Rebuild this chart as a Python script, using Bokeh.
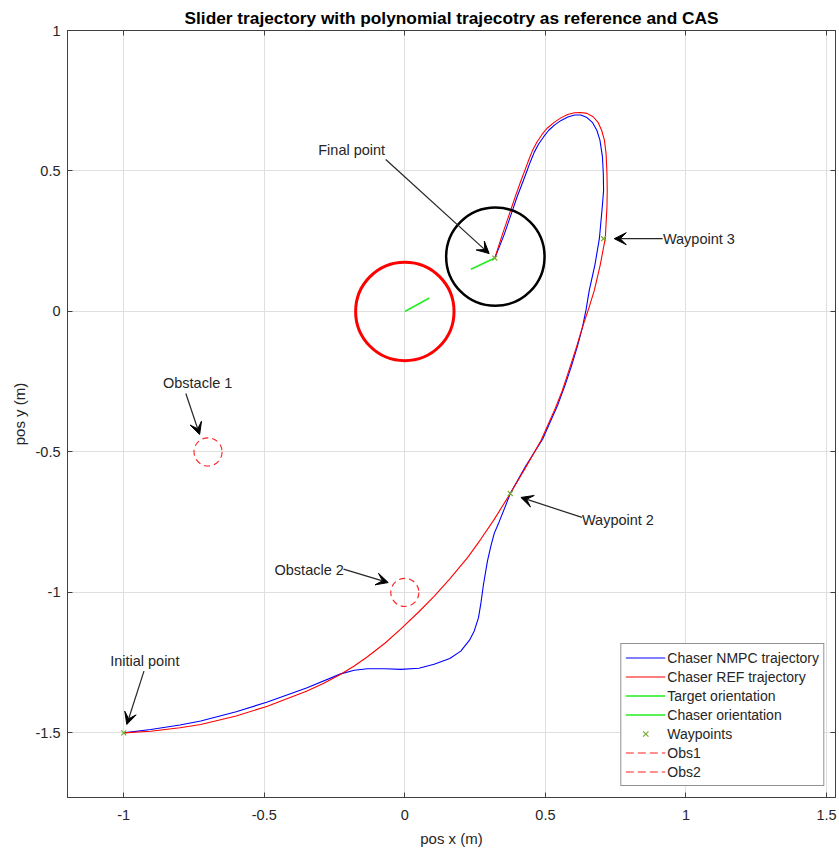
from bokeh.plotting import figure
from bokeh.models import (ColumnDataSource, Range1d, LinearAxis, FixedTicker,
                          Legend, LegendItem, Arrow, VeeHead, LabelSet,
                          CustomJSTickFormatter)
from bokeh.core.properties import value
from bokeh.embed import file_html
from bokeh.resources import INLINE

# --- chart data -----------------------------------------------------------
x_ticks = [-1, -0.5, 0, 0.5, 1, 1.5]
y_ticks = [-1.5, -1, -0.5, 0, 0.5, 1]

# reference (polynomial) trajectory
ref_x = [-1.000, -0.904, -0.800, -0.726, -0.600, -0.489, -0.350, -0.290, -0.228,
         -0.180, -0.133, -0.070, -0.014, 0.051, 0.104, 0.160, 0.223, 0.270, 0.318,
         0.375, 0.430, 0.484, 0.535, 0.560, 0.582, 0.608, 0.632, 0.654, 0.674,
         0.695, 0.713, 0.719, 0.720, 0.719, 0.716, 0.710, 0.700, 0.688, 0.670,
         0.648, 0.626, 0.603, 0.579, 0.555, 0.530, 0.506, 0.488, 0.470, 0.455,
         0.441, 0.428, 0.413, 0.395, 0.377, 0.348, 0.320]
ref_y = [-1.500, -1.494, -1.482, -1.470, -1.440, -1.405, -1.352, -1.324, -1.291,
         -1.262, -1.229, -1.180, -1.130, -1.068, -1.014, -0.952, -0.876, -0.811,
         -0.740, -0.648, -0.555, -0.460, -0.345, -0.282, -0.215, -0.135, -0.056,
         0.010, 0.075, 0.165, 0.260, 0.372, 0.430, 0.491, 0.560, 0.610, 0.645,
         0.672, 0.693, 0.705, 0.708, 0.707, 0.701, 0.689, 0.672, 0.652, 0.630,
         0.603, 0.575, 0.540, 0.505, 0.465, 0.415, 0.362, 0.277, 0.190]

# NMPC closed-loop trajectory
nmpc_x = [-1.000, -0.904, -0.800, -0.726, -0.600, -0.489, -0.350, -0.228, -0.180,
          -0.133, -0.070, -0.014, 0.050, 0.104, 0.160, 0.199, 0.230, 0.247, 0.262,
          0.270, 0.280, 0.294, 0.306, 0.318, 0.335, 0.355, 0.375, 0.430, 0.490,
          0.545, 0.570, 0.594, 0.615, 0.632, 0.645, 0.656, 0.676, 0.692, 0.703,
          0.707, 0.706, 0.703, 0.694, 0.683, 0.668, 0.648, 0.626, 0.604, 0.580,
          0.556, 0.533, 0.512, 0.494, 0.476, 0.461, 0.447, 0.434, 0.419, 0.400,
          0.382, 0.352, 0.320]
nmpc_y = [-1.500, -1.488, -1.472, -1.458, -1.425, -1.390, -1.340, -1.290, -1.277,
          -1.272, -1.272, -1.274, -1.270, -1.256, -1.235, -1.209, -1.170, -1.137,
          -1.090, -1.042, -0.970, -0.888, -0.835, -0.790, -0.750, -0.700, -0.648,
          -0.550, -0.455, -0.330, -0.262, -0.190, -0.120, -0.056, 0.008, 0.075,
          0.165, 0.259, 0.380, 0.431, 0.490, 0.550, 0.610, 0.645, 0.672, 0.690,
          0.699, 0.699, 0.692, 0.680, 0.664, 0.645, 0.622, 0.596, 0.568, 0.534,
          0.499, 0.459, 0.410, 0.357, 0.270, 0.190]

# target / chaser bodies
target_x, target_y, target_r = [0.0], [0.0], [0.175]
chaser_x, chaser_y, chaser_r = [0.322], [0.195], [0.175]

# orientation segments (start -> end)
tgt_orient = dict(x0=[0.0], y0=[0.0], x1=[0.087], y1=[0.048])
chs_orient = dict(x0=[0.320], y0=[0.190], x1=[0.235], y1=[0.150])

# waypoints
wp_x = [-1.0, 0.375, 0.707, 0.320]
wp_y = [-1.5, -0.648, 0.259, 0.190]

# obstacles
obs_x = [-0.7, 0.0]
obs_y = [-0.5, -1.0]
obs_r = [0.05, 0.05]

# annotations
note_text = ["Final point", "Waypoint 3", "Waypoint 2", "Obstacle 1", "Obstacle 2", "Initial point"]
note_x = [-0.189, 0.918, 0.630, -0.737, -0.217, -0.925]
note_y = [0.574, 0.257, -0.742, -0.253, -0.920, -1.244]
note_align = ["center", "left", "left", "center", "right", "center"]
arrow_x0 = [-0.068, 0.917, 0.630, -0.779, -0.218, -0.928]
arrow_y0 = [0.541, 0.259, -0.733, -0.292, -0.917, -1.280]
arrow_x1 = [0.300, 0.745, 0.413, -0.730, -0.059, -0.989]
arrow_y1 = [0.206, 0.259, -0.662, -0.438, -0.965, -1.470]

# --- figure ---------------------------------------------------------------
FONT = "Liberation Sans"
TXT = "#262626"
AX = "#404040"

p = figure(width=839, height=852,
           x_range=Range1d(-1.2, 1.532), y_range=Range1d(-1.73, 1.0),
           output_backend="svg", toolbar_location=None,
           min_border_left=67, min_border_right=4,
           min_border_top=30, min_border_bottom=55,
           background_fill_color="white", border_fill_color="white")

p.title.text = "Slider trajectory with polynomial trajecotry as reference and CAS"
p.title.align = "center"
p.title.text_font = FONT
p.title.text_font_size = "17.3px"
p.title.text_font_style = "bold"
p.title.text_color = "#000000"
p.title.standoff = 5

p.outline_line_color = AX

plain = CustomJSTickFormatter(code="return tick.toString();")
p.xaxis.ticker = FixedTicker(ticks=x_ticks)
p.yaxis.ticker = FixedTicker(ticks=y_ticks)
p.xaxis.formatter = plain
p.yaxis.formatter = plain
p.xaxis.axis_label = "pos x (m)"
p.yaxis.axis_label = "pos y (m)"
for ax in (p.xaxis[0], p.yaxis[0]):
    ax.major_label_text_font = FONT
    ax.major_label_text_font_size = "14.5px"
    ax.major_label_text_color = TXT
    ax.axis_label_text_font = FONT
    ax.axis_label_text_font_size = "15px"
    ax.axis_label_text_font_style = "normal"
    ax.axis_label_text_color = TXT
    ax.major_tick_in = 5
    ax.major_tick_out = 0
    ax.minor_tick_line_color = None
    ax.axis_line_color = AX
    ax.major_tick_line_color = AX
p.xaxis.major_label_standoff = 12
p.yaxis.major_label_standoff = 7
p.xaxis.axis_label_standoff = 7
p.yaxis.axis_label_standoff = 5

# box ticks on top and right (tick marks only, labels not painted)
for loc, tk in (("above", x_ticks), ("right", y_ticks)):
    ax = LinearAxis(ticker=FixedTicker(ticks=tk), major_label_text_font_size="0px",
                    major_label_text_color=None,
                    major_label_standoff=0, major_tick_in=5, major_tick_out=0,
                    minor_tick_line_color=None, axis_line_color=AX,
                    major_tick_line_color=AX)
    p.add_layout(ax, loc)

p.xgrid.ticker = FixedTicker(ticks=x_ticks)
p.ygrid.ticker = FixedTicker(ticks=y_ticks)
p.grid.grid_line_color = "#dfdfdf"
p.grid.grid_line_width = 1

# trajectories
r_nmpc = p.line(nmpc_x, nmpc_y, line_color="#0000ff", line_width=1.1)
r_ref = p.line(ref_x, ref_y, line_color="#ff0000", line_width=1.1)

# target and chaser bodies
p.circle(target_x, target_y, radius=target_r, fill_color=None,
         line_color="#ff0000", line_width=3)
p.circle(chaser_x, chaser_y, radius=chaser_r, fill_color=None,
         line_color="#000000", line_width=2.5)

# orientations
r_tgt = p.segment(x0="x0", y0="y0", x1="x1", y1="y1", source=ColumnDataSource(tgt_orient),
                  line_color="#22ee22", line_width=1.6)
r_chs = p.segment(x0="x0", y0="y0", x1="x1", y1="y1", source=ColumnDataSource(chs_orient),
                  line_color="#22ee22", line_width=1.6)

# obstacles (dashed outlines) and their legend proxies
p.circle(obs_x, obs_y, radius=obs_r, fill_color=None, line_color="#ff2020",
         line_width=1.1, line_dash="6 4")
nan = float("nan")
r_obs1 = p.line([nan], [nan], line_color="#ff2020", line_width=1.1, line_dash="8 4")
r_obs2 = p.line([nan], [nan], line_color="#ff2020", line_width=1.1, line_dash="8 4")

# waypoints
r_wp = p.scatter(wp_x, wp_y, marker="x", size=7, line_color="#77ac30", line_width=1.2)

# annotation arrows and texts
arrows = ColumnDataSource(dict(x0=arrow_x0, y0=arrow_y0, x1=arrow_x1, y1=arrow_y1))
p.add_layout(Arrow(x_start="x0", y_start="y0", x_end="x1", y_end="y1", source=arrows,
                   line_color="#262626", line_width=1.2,
                   end=VeeHead(size=12, fill_color="#000000", line_color="#000000",
                               line_width=1)))
notes = ColumnDataSource(dict(x=note_x, y=note_y, text=note_text, align=note_align))
p.add_layout(LabelSet(x="x", y="y", text="text", source=notes, text_align="align",
                      text_baseline="middle", text_font=value(FONT),
                      text_font_size=value("14.5px"), text_color=value(TXT)))

legend = Legend(items=[
    LegendItem(label="Chaser NMPC trajectory", renderers=[r_nmpc]),
    LegendItem(label="Chaser REF trajectory", renderers=[r_ref]),
    LegendItem(label="Target orientation", renderers=[r_tgt]),
    LegendItem(label="Chaser orientation", renderers=[r_chs]),
    LegendItem(label="Waypoints", renderers=[r_wp]),
    LegendItem(label="Obs1", renderers=[r_obs1]),
    LegendItem(label="Obs2", renderers=[r_obs2]),
], location="bottom_right")
legend.margin = 11
legend.padding = 4
legend.spacing = 0
legend.glyph_width = 40
legend.glyph_height = 19
legend.label_height = 19
legend.label_standoff = 2
legend.label_text_font = FONT
legend.label_text_font_size = "14px"
legend.label_text_color = TXT
legend.border_line_color = "#262626"
legend.border_line_width = 1
legend.background_fill_alpha = 1
p.add_layout(legend)

open("out.html", "w").write(file_html(p, INLINE))
